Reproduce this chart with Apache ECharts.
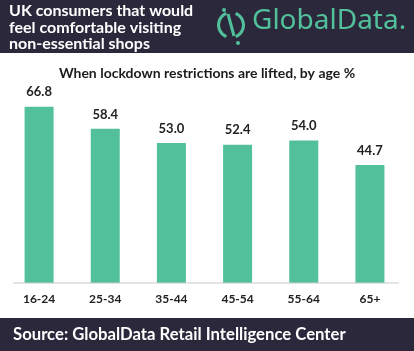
<!DOCTYPE html>
<html>
<head>
<meta charset="utf-8">
<script src="https://cdn.jsdelivr.net/npm/echarts@6/dist/echarts.min.js"></script>
<style>
  html, body { margin: 0; padding: 0; background: #fff; }
  #chart { width: 414px; height: 351px; }
</style>
</head>
<body>
<div id="chart"></div>
<script>
    "use strict";

    // ---- data ----
    const ageGroups = ["16-24", "25-34", "35-44", "45-54", "55-64", "65+"];
    const comfortPct = [66.8, 58.4, 53.0, 52.4, 54.0, 44.7];
    const titleLines = ["UK consumers that would", "feel comfortable visiting", "non-essential shops"];
    const subTitle = "When lockdown restrictions are lifted, by age %";
    const sourceText = "Source: GlobalData Retail Intelligence Center";

    const DARK = "#2c283b";
    const GREEN = "#52c09b";
    const FONT = "Lato, sans-serif";

    const el = document.getElementById("chart");
    const chart = echarts.init(el, null, { renderer: "canvas" });

    // header / footer / logo (decoration only)
    const graphics = [
        { type: "rect", shape: { x: 0, y: 0, width: 414, height: 53 }, style: { fill: DARK }, z: 0 },
        { type: "rect", shape: { x: 0, y: 318, width: 414, height: 33 }, style: { fill: DARK }, z: 0 },
        {
            type: "text", left: 9, top: 3, z: 2,
            style: { text: titleLines.join("\n"), fill: "#fff", font: "bold 16px " + FONT, lineHeight: 16.5 }
        },
        {
            type: "text", left: 13, top: 326, z: 2,
            style: { text: sourceText, fill: "#fff", font: "bold 16.7px " + FONT }
        },
        {
            type: "text", left: 252, top: 7, z: 2,
            style: { text: "GlobalData.", fill: GREEN, font: "28px 'Noto Sans', sans-serif" }
        },
        // logo ring, split top & bottom
        { type: "arc", shape: { cx: 231, cy: 25, r: 12.5, startAngle: Math.PI * 0.62, endAngle: Math.PI * 1.38 }, style: { stroke: GREEN, lineWidth: 3, fill: null }, z: 2 },
        { type: "arc", shape: { cx: 231, cy: 25, r: 12.5, startAngle: -Math.PI * 0.38, endAngle: Math.PI * 0.38 }, style: { stroke: GREEN, lineWidth: 3, fill: null }, z: 2 },
        { type: "line", shape: { x1: 228, y1: 14, x2: 234, y2: 36 }, style: { stroke: GREEN, lineWidth: 3 }, z: 2 },
        { type: "circle", shape: { cx: 224, cy: 10, r: 2 }, style: { fill: GREEN }, z: 2 },
        { type: "circle", shape: { cx: 238, cy: 43, r: 2 }, style: { fill: GREEN }, z: 2 },
        // baseline
        { type: "line", shape: { x1: 13, y1: 283, x2: 399, y2: 283 }, style: { stroke: "#c8c8c8", lineWidth: 1 }, z: 3 }
    ];

    chart.setOption({
        animation: false,
        title: {
            text: subTitle, left: "center", top: 61,
            textStyle: { fontFamily: FONT, fontSize: 14, fontWeight: "bold", color: "#1b1b1b" }
        },
        grid: { left: 6, right: 11, top: 19, bottom: 68, containLabel: false },
        xAxis: {
            type: "category", data: ageGroups,
            axisLine: { show: false }, axisTick: { show: false },
            axisLabel: { margin: 10, fontFamily: FONT, fontSize: 12, fontWeight: "bold", color: "#222" }
        },
        yAxis: { type: "value", min: 0, max: 100, show: false, splitLine: { show: false } },
        series: [{
            type: "bar", data: comfortPct, barWidth: 29,
            itemStyle: { color: GREEN },
            label: {
                show: true, position: "top", distance: 8,
                formatter: p => p.value.toFixed(1),
                fontFamily: FONT, fontSize: 13, fontWeight: "bold", color: "#222"
            }
        }],
        graphic: graphics
    });
</script>
</body>
</html>
